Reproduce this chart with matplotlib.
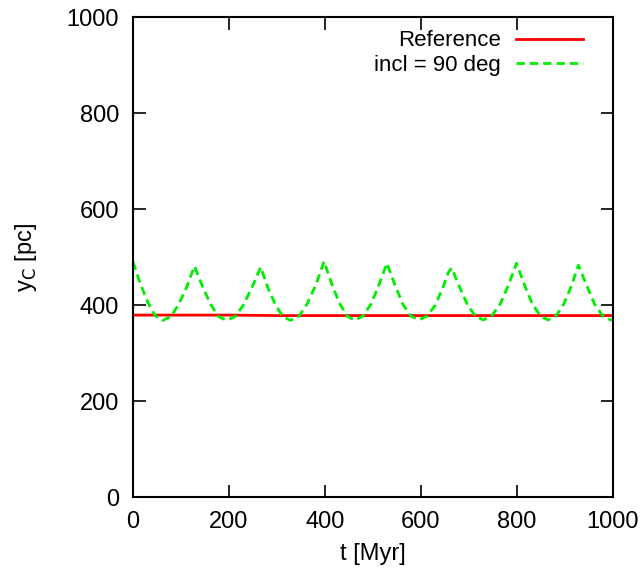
import numpy as np
import matplotlib.pyplot as plt

plt.rcParams['font.family'] = ['Liberation Sans', 'DejaVu Sans']

# reference run (nearly flat)
t_ref = [0, 100, 200, 300, 400, 500, 600, 700, 800, 900, 1000]
y_ref = [379, 379, 379, 378, 378, 378, 378, 378, 378, 378, 378]

# inclined run, incl = 90 deg
t_inc = [0, 15, 31, 46, 62, 79, 95, 112, 128, 145, 162, 178, 195,
         213, 230, 248, 266, 281, 297, 312, 328, 346, 363, 381, 398,
         414, 430, 446, 462, 479, 496, 512, 529, 546, 562, 579, 596,
         613, 630, 647, 657, 664, 681, 697, 714, 730, 747, 765, 782, 799,
         816, 832, 849, 865, 881, 897, 913, 928, 946, 962, 979, 995, 1000]
y_inc = [490, 445, 405, 378, 368, 376, 401, 438, 481, 438, 401, 376, 368,
         376, 400, 437, 479, 436, 400, 376, 368, 377, 403, 442, 491,
         444, 404, 377, 368, 377, 402, 441, 487, 441, 402, 377, 369,
         377, 400, 440, 468, 477, 436, 400, 376, 369, 377, 402, 441, 487,
         441, 402, 377, 369, 377, 401, 439, 483, 439, 401, 377, 369, 370]

fig = plt.figure(figsize=(6.42, 5.69), dpi=100)
ax = fig.add_axes([0.2072, 0.1265, 0.7476, 0.8436])

ax.plot(t_ref, y_ref, color='#ff0000', lw=2, label='Reference')
ax.plot(t_inc, y_inc, color='#00ee00', lw=2, ls=(0, (3, 1.8)), label='incl = 90 deg')

ax.set_xlim(0, 1000)
ax.set_ylim(0, 1000)
ax.set_xticks(np.arange(0, 1001, 200))
ax.set_yticks(np.arange(0, 1001, 200))
ax.tick_params(direction='in', length=9, width=1.2, labelsize=17,
               top=True, right=True, pad=10)
for s in ax.spines.values():
    s.set_linewidth(1.5)

ax.set_xlabel('t [Myr]', fontsize=17, labelpad=7)
ax.set_ylabel(r'y$_\mathrm{C}$ [pc]', fontsize=17, labelpad=20)

ax.legend(loc='upper right', frameon=False, markerfirst=False, fontsize=16,
          handlelength=3.0, handletextpad=0.7, labelspacing=0.15,
          borderaxespad=0.2, bbox_to_anchor=(0.965, 1.0))

fig.savefig('out.png', dpi=100)
